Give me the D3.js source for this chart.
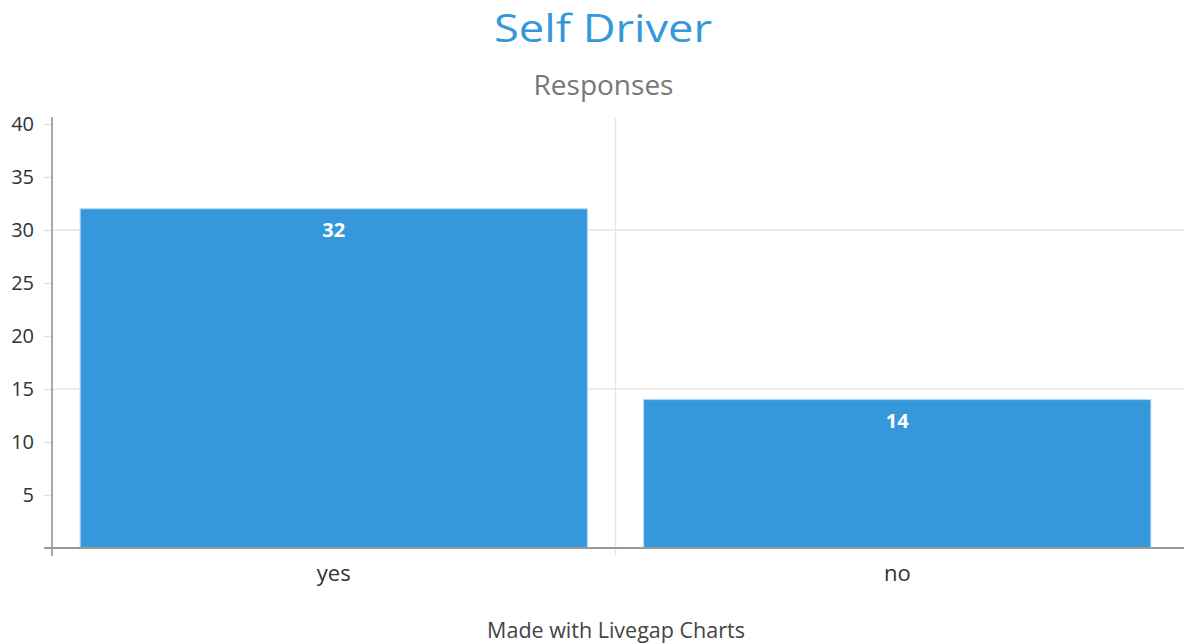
<!DOCTYPE html>
<html><head><meta charset="utf-8">
<script src="https://cdn.jsdelivr.net/npm/d3@7"></script>
<style>
body{margin:0;background:#fff;}
svg{display:block;font-family:"Open Sans",sans-serif;}
</style></head><body>
<svg id="c" width="1184" height="644"></svg>
<script>
const categories = ["yes","no"];
const values = [32,14];
const yTicks = [5,10,15,20,25,30,35,40];
const gridTicks = [15,30];
const title = "Self Driver";
const subtitle = "Responses";
const footer = "Made with Livegap Charts";

(function(){
const svg = d3.select("#c");
const W=1184,H=644;
const pLeft=52,pRight=1179,pTop=124,pBottom=548;
const x = d3.scaleBand().domain(categories).range([pLeft,pRight]).paddingInner(0.1).paddingOuter(0.05);
const y = d3.scaleLinear().domain([0,40]).range([pBottom,pTop]);

// gridlines
svg.append("g").selectAll("line").data(gridTicks).join("line")
  .attr("x1",pLeft).attr("x2",W).attr("y1",d=>y(d)).attr("y2",d=>y(d))
  .attr("stroke","#ebebeb").attr("stroke-width",2);
// vertical category separator
const sep = x(categories[1]) - x.step()*x.paddingInner()/2;
svg.append("line").attr("x1",sep).attr("x2",sep).attr("y1",118).attr("y2",556)
  .attr("stroke","#e6e6e6").attr("stroke-width",1.5);

// bars
svg.append("g").selectAll("rect").data(values).join("rect")
  .attr("x",(d,i)=>x(categories[i])).attr("width",x.bandwidth())
  .attr("y",d=>y(d)).attr("height",d=>pBottom-y(d))
  .attr("fill","#3498db").attr("stroke","#aed6f5").attr("stroke-width",1);

// value labels
svg.append("g").selectAll("text").data(values).join("text")
  .attr("x",(d,i)=>x(categories[i])+x.bandwidth()/2).attr("y",d=>y(d)+28)
  .attr("text-anchor","middle").attr("fill","#fff").attr("font-weight","bold")
  .attr("font-size",20).text(d=>d);

// y axis
const yAx = svg.append("g").attr("transform",`translate(${pLeft},0)`)
  .call(d3.axisLeft(y).tickValues(yTicks).tickSize(8).tickPadding(10));
yAx.select(".domain").remove();
yAx.selectAll(".tick line").attr("stroke","#e0e0e0").attr("stroke-width",1.5);
yAx.selectAll(".tick text").attr("font-size",20).attr("fill","#333").attr("font-family","Open Sans");
svg.append("line").attr("x1",pLeft).attr("x2",pLeft).attr("y1",117).attr("y2",556)
  .attr("stroke","#8c8c8c").attr("stroke-width",1.5);

// x axis
svg.append("line").attr("x1",44).attr("x2",W).attr("y1",pBottom).attr("y2",pBottom)
  .attr("stroke","#999").attr("stroke-width",2);
const xAx = svg.append("g").attr("transform",`translate(0,${pBottom})`)
  .call(d3.axisBottom(x).tickSize(0).tickPadding(17));
xAx.select(".domain").remove();
xAx.selectAll(".tick text").attr("font-size",22).attr("fill","#333").attr("font-family","Open Sans");

// titles
svg.append("text").attr("x",603).attr("y",42).attr("text-anchor","middle")
  .attr("font-size",38).attr("fill","#3498db")
  .attr("textLength",218).attr("lengthAdjust","spacingAndGlyphs").text(title);
svg.append("text").attr("x",603.5).attr("y",95).attr("text-anchor","middle")
  .attr("font-size",28).attr("fill","#777").text(subtitle);
svg.append("text").attr("x",616).attr("y",638).attr("text-anchor","middle")
  .attr("font-size",21.5).attr("fill","#444").text(footer);
})();
</script></body></html>
